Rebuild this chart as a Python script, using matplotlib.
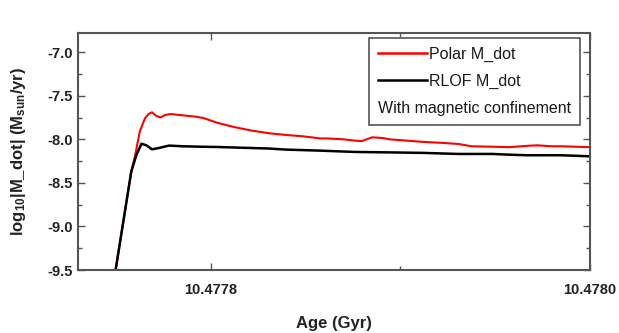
import matplotlib
matplotlib.use("Agg")
import matplotlib.pyplot as plt
from matplotlib.ticker import FixedLocator, MultipleLocator, FormatStrFormatter
from matplotlib.lines import Line2D

plt.rcParams['font.family'] = ['Liberation Sans', 'DejaVu Sans']
plt.rcParams['mathtext.fontset'] = 'custom'
plt.rcParams['mathtext.rm'] = 'Liberation Sans:bold'
plt.rcParams['mathtext.it'] = 'Liberation Sans:bold'
plt.rcParams['mathtext.bf'] = 'Liberation Sans:bold'
plt.rcParams['axes.unicode_minus'] = False

# Age (Gyr) and log10 Mdot
polar_age = [10.4777490, 10.4777499, 10.4777581, 10.4777599, 10.4777626, 10.4777653,
             10.4777672, 10.4777690, 10.4777712, 10.4777735, 10.4777760, 10.4777789,
             10.4777853, 10.4777920, 10.4777962, 10.4778034, 10.4778125, 10.4778216,
             10.4778307, 10.4778397, 10.4778488, 10.4778579, 10.4778615, 10.4778700,
             10.4778760, 10.4778797, 10.4778851, 10.4778906, 10.4778942, 10.4779033,
             10.4779123, 10.4779214, 10.4779305, 10.4779377, 10.4779486, 10.4779577,
             10.4779668, 10.4779722, 10.4779800, 10.4779849, 10.4780000]
polar_mdot = [-9.60, -9.49, -8.37, -8.21, -7.91, -7.76,
              -7.71, -7.69, -7.73, -7.75, -7.72, -7.71,
              -7.725, -7.74, -7.756, -7.81, -7.86, -7.90,
              -7.93, -7.95, -7.966, -7.99, -7.99, -8.00,
              -8.015, -8.02, -7.977, -7.985, -8.00, -8.015,
              -8.03, -8.04, -8.053, -8.08, -8.085, -8.09,
              -8.075, -8.069, -8.08, -8.08, -8.09]

rlof_age = [10.4777490, 10.4777499, 10.4777581, 10.4777608, 10.4777635, 10.4777662,
            10.4777690, 10.4777726, 10.4777780, 10.4777853, 10.4777950, 10.4778034,
            10.4778216, 10.4778300, 10.4778397, 10.4778579, 10.4778700, 10.4778760,
            10.4778942, 10.4779123, 10.4779305, 10.4779486, 10.4779560, 10.4779668,
            10.4779849, 10.4780000]
rlof_mdot = [-9.60, -9.49, -8.37, -8.18, -8.05, -8.07,
             -8.115, -8.10, -8.072, -8.08, -8.085, -8.088,
             -8.10, -8.105, -8.118, -8.13, -8.14, -8.145,
             -8.15, -8.156, -8.168, -8.168, -8.175, -8.183,
             -8.183, -8.195]

x_major = [10.4778, 10.4780]
x_minor = [10.4779]

fig = plt.figure(figsize=(6.19, 3.33), dpi=100)
ax = fig.add_axes([0.126, 0.189, 0.827, 0.712])

ax.plot(polar_age, polar_mdot, color='#ff0000', lw=1.5, label='Polar M_dot')
ax.plot(rlof_age, rlof_mdot, color='black', lw=1.8, label='RLOF M_dot')

ax.set_xlim(10.47773, 10.4780)
ax.set_ylim(-9.5, -6.78)

ax.xaxis.set_major_locator(FixedLocator(x_major))
ax.xaxis.set_minor_locator(FixedLocator(x_minor))
ax.xaxis.set_major_formatter(FormatStrFormatter('%.4f'))
ax.yaxis.set_major_locator(MultipleLocator(0.5))
ax.yaxis.set_minor_locator(MultipleLocator(0.25))
ax.yaxis.set_major_formatter(FormatStrFormatter('%.1f'))

ax.tick_params(which='both', direction='in', top=True, right=True, colors='#555555',
               labelcolor='#222222', width=1.0)
ax.tick_params(which='major', length=5, labelsize=10.5)
ax.tick_params(axis='x', which='major', pad=9)
ax.tick_params(which='minor', length=3)
for lab in ax.get_xticklabels() + ax.get_yticklabels():
    lab.set_fontweight('bold')
for sp in ax.spines.values():
    sp.set_color('#555555')
    sp.set_linewidth(1.5)

ax.set_xlabel('Age (Gyr)', fontsize=12, fontweight='bold', color='#222222', labelpad=14)
ax.set_ylabel('log$_{10}$|M_dot| (M$_{sun}$/yr)', fontsize=12, fontweight='bold',
              color='#222222', labelpad=14)

handles = [Line2D([], [], color='#ff0000', lw=1.8), Line2D([], [], color='black', lw=1.8)]
leg = ax.legend(handles, ['Polar M_dot', 'RLOF M_dot'], title='With magnetic confinement',
                loc='upper right', bbox_to_anchor=(0.98, 0.98), fontsize=11.5,
                title_fontsize=11.5, handlelength=3.1, handletextpad=0.1,
                borderpad=0.55, labelspacing=0.75, borderaxespad=0.0,
                fancybox=False, framealpha=1)
leg.get_frame().set_edgecolor('#555555')
leg.get_frame().set_linewidth(1.2)
for t in leg.get_texts() + [leg.get_title()]:
    t.set_color('#1a1a1a')
# move the title below the entries
box = leg._legend_box
box._children = [box._children[1], box._children[0]]
box.align = 'left'
box.sep = 9

fig.savefig('out.png', dpi=100)
